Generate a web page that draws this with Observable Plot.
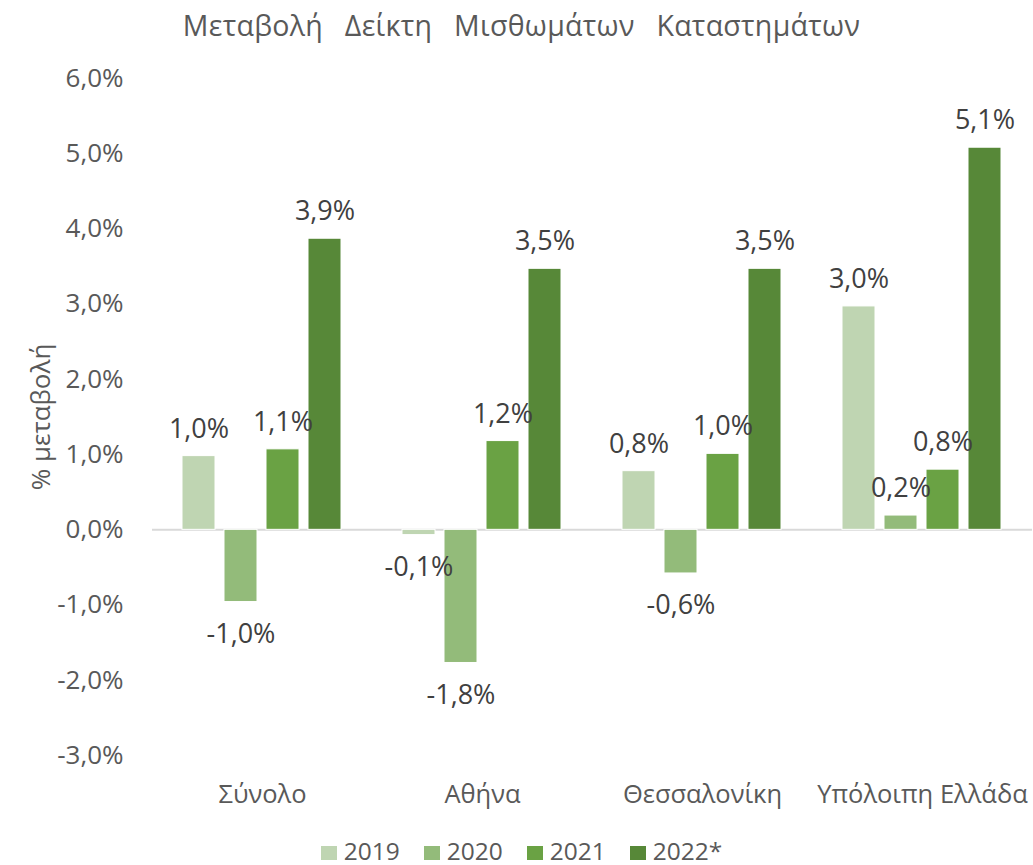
<!DOCTYPE html>
<html><head><meta charset="utf-8">
<script src="https://cdn.jsdelivr.net/npm/d3@7"></script>
<script src="https://cdn.jsdelivr.net/npm/@observablehq/plot@0.6"></script>
<style>
body{margin:0;background:#fff;font-family:"Open Sans",sans-serif;}
#title{height:50px;line-height:50px;text-align:center;font-size:28.5px;color:#595959;padding-left:10px;word-spacing:14px;letter-spacing:0.3px;white-space:nowrap;}
#legend{margin-top:8px;height:45px;display:flex;justify-content:center;align-items:center;gap:24px;font-size:24.5px;color:#595959;padding-left:10px;}
#legend span.sw{display:inline-block;width:16px;height:14px;margin-right:7px;}
</style></head><body>
<div id="title">Μεταβολή Δείκτη Μισθωμάτων Καταστημάτων</div>
<div id="chart"></div>
<div id="legend"></div>
<script>
const categories = ["Σύνολο", "Αθήνα", "Θεσσαλονίκη", "Υπόλοιπη Ελλάδα"];
const years = ["2019", "2020", "2021", "2022*"];
const v2019 = [0.98, -0.07, 0.78, 2.97];
const v2020 = [-0.96, -1.77, -0.58, 0.19];
const v2021 = [1.07, 1.18, 1.01, 0.80];
const v2022 = [3.87, 3.47, 3.47, 5.08];
const yTicks = [-3, -2, -1, 0, 1, 2, 3, 4, 5, 6];
const colors = ["#bfd5b2", "#93bb7a", "#6aa244", "#578838"];

const series = [v2019, v2020, v2021, v2022];
const data = [];
categories.forEach((c, i) => years.forEach((y, j) => data.push({cat: c, year: y, value: series[j][i]})));
const fmt = v => v.toFixed(1).replace(".", ",") + "%";

const chart = Plot.plot({
  width: 1033, height: 770,
  marginTop: 28, marginBottom: 65, marginLeft: 151, marginRight: 0,
  style: {fontFamily: "Open Sans", fontSize: "25.5px", color: "#595959", background: "#fff"},
  fx: {domain: categories, padding: 0, label: null, axis: "bottom", tickSize: 0, tickPadding: 29},
  x: {domain: years, axis: null, paddingInner: 0.21, paddingOuter: 0.72},
  y: {domain: [-3, 6], ticks: yTicks, tickFormat: fmt, label: null, tickSize: 0, tickPadding: 29},
  color: {domain: years, range: colors},
  marks: [
    Plot.axisY({ticks: yTicks, tickFormat: fmt, tickSize: 0, tickPadding: 29, fontSize: 26,
      label: "% μεταβολή", labelArrow: "none", labelAnchor: "center", labelOffset: 121}),
    Plot.ruleY([0], {stroke: "#d9d9d9", strokeWidth: 2}),
    Plot.barY(data, {fx: "cat", x: "year", y: "value", fill: "year", stroke: "white", strokeWidth: 1}),
    Plot.text(data.filter(d => d.value >= 0), {fx: "cat", x: "year", y: "value", text: d => fmt(d.value),
      dy: -27, fill: "#404040", fontSize: 27}),
    Plot.text(data.filter(d => d.value < 0), {fx: "cat", x: "year", y: "value", text: d => fmt(d.value),
      dy: 32, fill: "#404040", fontSize: 27})
  ]
});
document.getElementById("chart").appendChild(chart);

const lg = document.getElementById("legend");
years.forEach((y, i) => {
  const item = document.createElement("div");
  item.innerHTML = `<span class="sw" style="background:${colors[i]}"></span>${y}`;
  lg.appendChild(item);
});
</script>
</body></html>
